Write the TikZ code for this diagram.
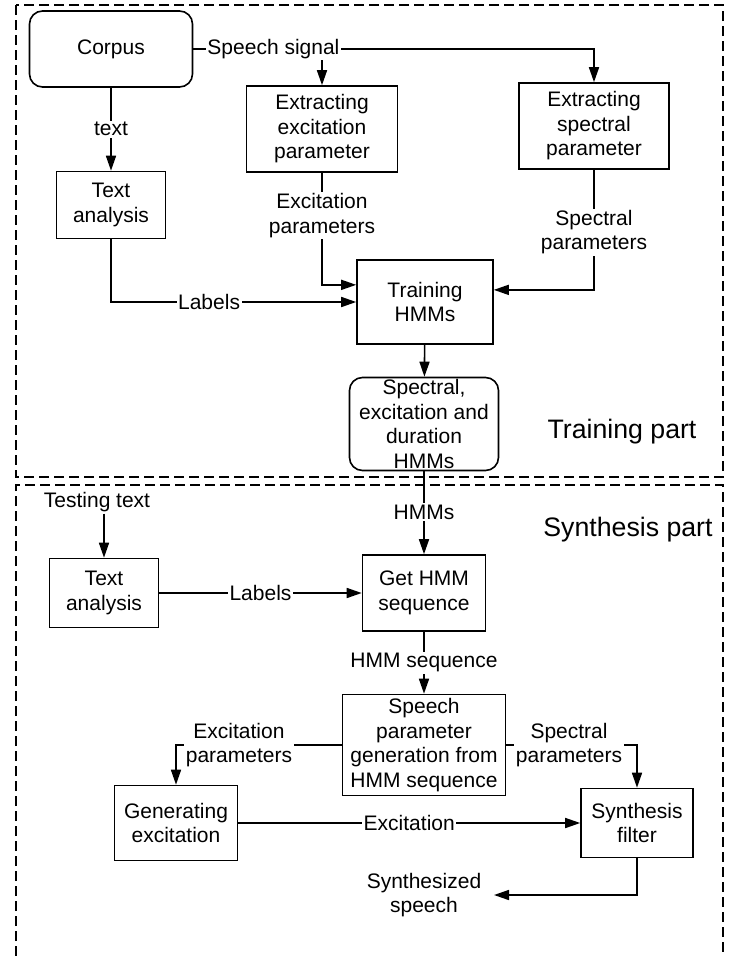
\documentclass[tikz,border=0pt]{standalone}
\usepackage{fontspec}
\setmainfont{Liberation Sans}
\usetikzlibrary{arrows.meta}

\begin{document}
\begin{tikzpicture}
    [x=1pt, y=-1pt,
     line width=1.6pt,
     font=\fontsize{21}{24.5}\selectfont,
     >={Triangle[length=15pt,width=10pt]},
     stage/.style={draw,align=center,inner sep=0pt},
     store/.style={stage,rounded corners=13pt},
     signal/.style={fill=white,align=center,inner sep=1.5pt},
     part/.style={font=\fontsize{26.7}{32}\selectfont},
     frame/.style={dash pattern=on 10pt off 5pt}]
    \useasboundingbox (0, 0) rectangle (739, 956);

    % Training part
    \draw [frame] (16, 5) rectangle (723, 477);

    \node (corpus) at (111, 49) [store, minimum width=163pt, minimum height=76pt] {Corpus};
    \node (extexc) at (322, 129) [stage, minimum width=151pt, minimum height=86pt] {Extracting\\excitation\\parameter};
    \node (extspec) at (594, 126) [stage, minimum width=150pt, minimum height=86pt] {Extracting\\spectral\\parameter};
    \node (txt) at (111, 205) [stage, minimum width=109pt, minimum height=67pt] {Text\\analysis};
    \node (train) at (425, 302) [stage, minimum width=136pt, minimum height=84pt] {Training\\HMMs};
    \node (hmms) at (424, 424) [store, minimum width=149pt, minimum height=93pt] {Spectral,\\excitation and\\duration\\HMMs};
    \node (trainpart) at (622, 432) [part] {Training part};

    \draw [->] (corpus.east -| extexc.north) -- (extexc.north);
    \draw [->] (corpus.east) -| node[pos=0.1, signal] {Speech signal} (extspec.north);
    \draw [->] (corpus) -- node[signal] {text} (txt);
    \draw [->] (txt.south) |- node[pos=0.7, signal] {Labels} (train.west);
    \draw [->] (extexc.south) |- node[pos=0.19, signal] {Excitation\\parameters} (train.166);
    \draw [->] (extspec.south) |- node[pos=0.26, signal] {Spectral\\parameters} (train.10);
    \draw [->] (train) -- (hmms);

    % Synthesis part
    \draw [frame] (16, 956) -- (16, 485) -- (723, 485) -- (723, 956);

    \node (testing) at (97, 502) [inner sep=1pt] {Testing text};
    \node (txt2) at (104, 593) [stage, minimum width=109pt, minimum height=69pt] {Text\\analysis};
    \node (gethmm) at (424, 593) [stage, minimum width=123pt, minimum height=76pt] {Get HMM\\sequence};
    \node (speech) at (424, 745) [stage, minimum width=163pt, minimum height=101pt] {Speech\\parameter\\generation from\\HMM sequence};
    \node (gen) at (176, 823) [stage, minimum width=123pt, minimum height=75pt] {Generating\\excitation};
    \node (synth) at (637, 823) [stage, minimum width=112pt, minimum height=69pt] {Synthesis\\filter};
    \node (synthout) at (424, 895) [align=center, inner xsep=12pt] {Synthesized\\speech};
    \node (synthpart) at (628, 530) [part] {Synthesis part};

    \draw [->] (hmms) -- node[pos=0.49, signal] {HMMs} (gethmm);
    \draw [->] (testing.south -| txt2.north) -- (txt2.north);
    \draw [->] (txt2) -- node[signal] {Labels} (gethmm);
    \draw [->] (gethmm) -- node[signal] {HMM sequence} (speech);
    \draw [->] (speech.west) -| node[pos=0.31, signal] {Excitation\\parameters} (gen.north);
    \draw [->] (speech.east) -| node[pos=0.24, signal] {Spectral\\parameters} (synth.north);
    \draw [->] (gen) -- node[signal] {Excitation} (synth);
    \draw [->] (synth.south) |- (synthout.east);
\end{tikzpicture}
\end{document}
